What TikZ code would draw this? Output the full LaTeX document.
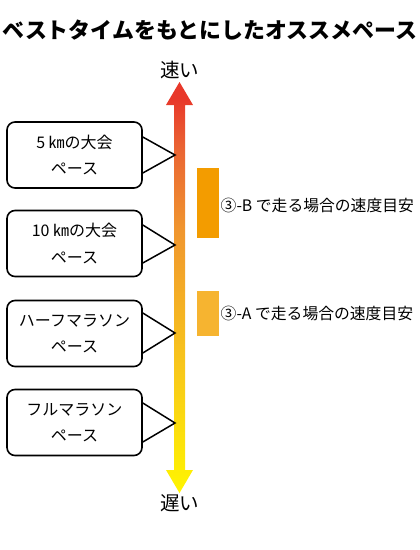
\documentclass[tikz,border=0pt]{standalone}
\usepackage{fontspec}
\setmainfont{Noto Sans CJK JP}
\definecolor{cR}{HTML}{E8382A}
\definecolor{cRO}{HTML}{EA6433}
\definecolor{cO}{HTML}{F0962F}
\definecolor{cG}{HTML}{F8C81A}
\definecolor{cY}{HTML}{FFF500}
\definecolor{cB}{HTML}{F39C00}
\definecolor{cA}{HTML}{F6B430}
\pgfdeclareverticalshading{speedshade}{100bp}{color(0bp)=(cY); color(25bp)=(cY); color(40bp)=(cG); color(57bp)=(cO); color(67bp)=(cRO); color(73bp)=(cR); color(100bp)=(cR)}
\begin{document}
\begin{tikzpicture}[x=1pt,y=-1pt,
  pbox/.style={draw=black, line width=1.6pt, rounded corners=8pt, fill=white,
    minimum width=135pt, minimum height=66pt, align=center,
    font=\fontsize{16}{26.5}\selectfont, inner sep=0pt},
  ptr/.style={draw=black, line width=1.5pt, line join=miter},
  speedlbl/.style={font=\fontsize{19.5}{22}\selectfont, inner sep=0pt},
  sidelbl/.style={font=\fontsize{15.8}{18}\selectfont, anchor=west, inner sep=0pt},
  bar/.style={inner sep=0pt, minimum width=22pt}]
\useasboundingbox (0,0) rectangle (420,550);
% title
\node[font=\fontsize{21.9}{24}\selectfont\bfseries, inner sep=0pt] (title) at (210,30) {ベストタイムをもとにしたオススメペース};
% speed arrow
\path[shading=speedshade] (179.5,82) -- (193,105) -- (185,105) -- (185,470) -- (193,470) -- (179.5,493) -- (166,470) -- (174,470) -- (174,105) -- (166,105) -- cycle;
\node[speedlbl] (fast) at (179.5,70) {速い};
\node[speedlbl] (slow) at (179.5,503) {遅い};
% boxes
\node[pbox] (b1) at (74.5,155) {5 ㎞の大会\\ペース};
\node[pbox] (b2) at (74.5,243.5) {10 ㎞の大会\\ペース};
\node[pbox] (b3) at (74.5,333.5) {ハーフマラソン\\ペース};
\node[pbox] (b4) at (74.5,422.5) {フルマラソン\\ペース};
\coordinate (t1) at (175,155);
\coordinate (t2) at (175,245);
\coordinate (t3) at (175,333);
\coordinate (t4) at (175,423);
\draw[ptr] (b1.east |- 0,137) -- (t1) -- (b1.east |- 0,173);
\draw[ptr] (b2.east |- 0,225) -- (t2) -- (b2.east |- 0,263);
\draw[ptr] (b3.east |- 0,313) -- (t3) -- (b3.east |- 0,353);
\draw[ptr] (b4.east |- 0,403) -- (t4) -- (b4.east |- 0,442);
% side bars
\node[bar, fill=cB, minimum height=70pt] (rB) at (208,203) {};
\node[bar, fill=cA, minimum height=45pt] (rA) at (208,313.5) {};
\node[sidelbl] (lB) at (220.5,205) {③-B で走る場合の速度目安};
\node[sidelbl] (lA) at (220.5,313) {③-A で走る場合の速度目安};
\end{tikzpicture}
\end{document}
